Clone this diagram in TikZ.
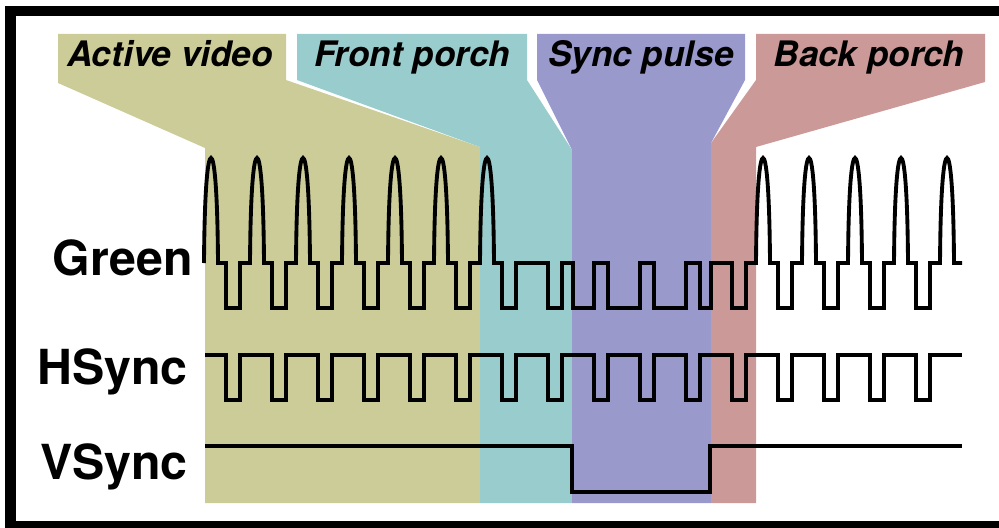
\documentclass[tikz,border=0pt]{standalone}
\usepackage{fontspec}
\setmainfont{TeX Gyre Heros}
\usetikzlibrary{positioning}
\definecolor{VideoBg}{HTML}{CCCC99}
\definecolor{FrontBg}{HTML}{99CCCC}
\definecolor{SyncBg}{HTML}{9999CC}
\definecolor{BackBg}{HTML}{CC9999}
\tikzset{
    phaselbl/.style={anchor=base, inner sep=0pt, font=\fontsize{20}{23}\selectfont\bfseries\itshape},
    siglbl/.style={anchor=base east, inner sep=0pt, font=\fontsize{27.5}{31}\selectfont\bfseries},
    sig/.style={line width=2.2pt, line join=miter, black},
    frame/.style={line width=5.7pt, black}
}
\begin{document}
\begin{tikzpicture}[x=0.02cm, y=-0.02cm]
    \useasboundingbox (0,0) rectangle (999,527);
    \clip (0,0) rectangle (999,527);

    % --- PHASE BANDS ---
    \fill[VideoBg] (58,34) -- (286,34) -- (286,80) -- (480,147) -- (480,503) -- (205,503) -- (205,148) -- (58,83) -- cycle;
    \fill[FrontBg] (297,34) -- (527,34) -- (527,80) -- (572,150) -- (572,503) -- (480,503) -- (480,147) -- (297,80) -- cycle;
    \fill[SyncBg] (537,34) -- (745,34) -- (745,80) -- (711,143) -- (711,503) -- (572,503) -- (572,150) -- (537,80) -- cycle;
    \fill[BackBg] (756,34) -- (985,34) -- (985,82) -- (756,147) -- (756,503) -- (711,503) -- (711,143) -- (756,80) -- cycle;

    % --- PHASE LABELS ---
    \node[phaselbl] (active) at (170,67) {Active video};
    \node[phaselbl] (front) at (412,67) {Front porch};
    \node[phaselbl] (syncp) at (641,67) {Sync pulse};
    \node[phaselbl] (back) at (869,67) {Back porch};

    % --- SIGNAL LABELS ---
    \node[siglbl] (green) at (193,275) {Green};
    \node[siglbl] (hsync) at (188,384) {HSync};
    \node[siglbl] (vsync) at (188,479) {VSync};

    % --- GREEN ---
    \draw[sig] (204,263)
        \foreach \h in {233,279,...,509} {
            .. controls (\h-28.5,185) and (\h-25,158) .. (\h-22,158)
            .. controls (\h-19,158) and (\h-15.5,185) .. (\h-15,263)
            -- (\h-7,263) -- (\h-7,308) -- (\h+7,308) -- (\h+7,263) -- (\h+17,263)
        }
        -- (548,263) -- (548,308) -- (562,308) -- (562,263) -- (573,263) -- (573,308)
        -- (594,308) -- (594,263) -- (608,263) -- (608,308)
        -- (640,308) -- (640,263) -- (654,263) -- (654,308)
        -- (686,308) -- (686,263) -- (700,263) -- (700,308)
        -- (711,308) -- (711,263) -- (732,263) -- (732,308) -- (746,308) -- (746,263) -- (756,263)
        \foreach \h in {785,831,...,923} {
            .. controls (\h-28.5,185) and (\h-25,158) .. (\h-22,158)
            .. controls (\h-19,158) and (\h-15.5,185) .. (\h-15,263)
            -- (\h-7,263) -- (\h-7,308) -- (\h+7,308) -- (\h+7,263) -- (\h+17,263)
        }
        .. controls (940.5,185) and (944,158) .. (947,158)
        .. controls (950,158) and (953.5,185) .. (954,263) -- (962,263);

    % --- HSYNC ---
    \draw[sig] (205,355)
        \foreach \h in {233,279,...,923} {
            -- (\h-7,355) -- (\h-7,400) -- (\h+7,400) -- (\h+7,355)
        }
        -- (962,355);

    % --- VSYNC ---
    \draw[sig] (205,446) -- (572,446) -- (572,492) -- (710,492) -- (710,446) -- (962,446);

    % --- FRAME ---
    \draw[frame] (10.5,11) rectangle (1010,526);
\end{tikzpicture}
\end{document}
